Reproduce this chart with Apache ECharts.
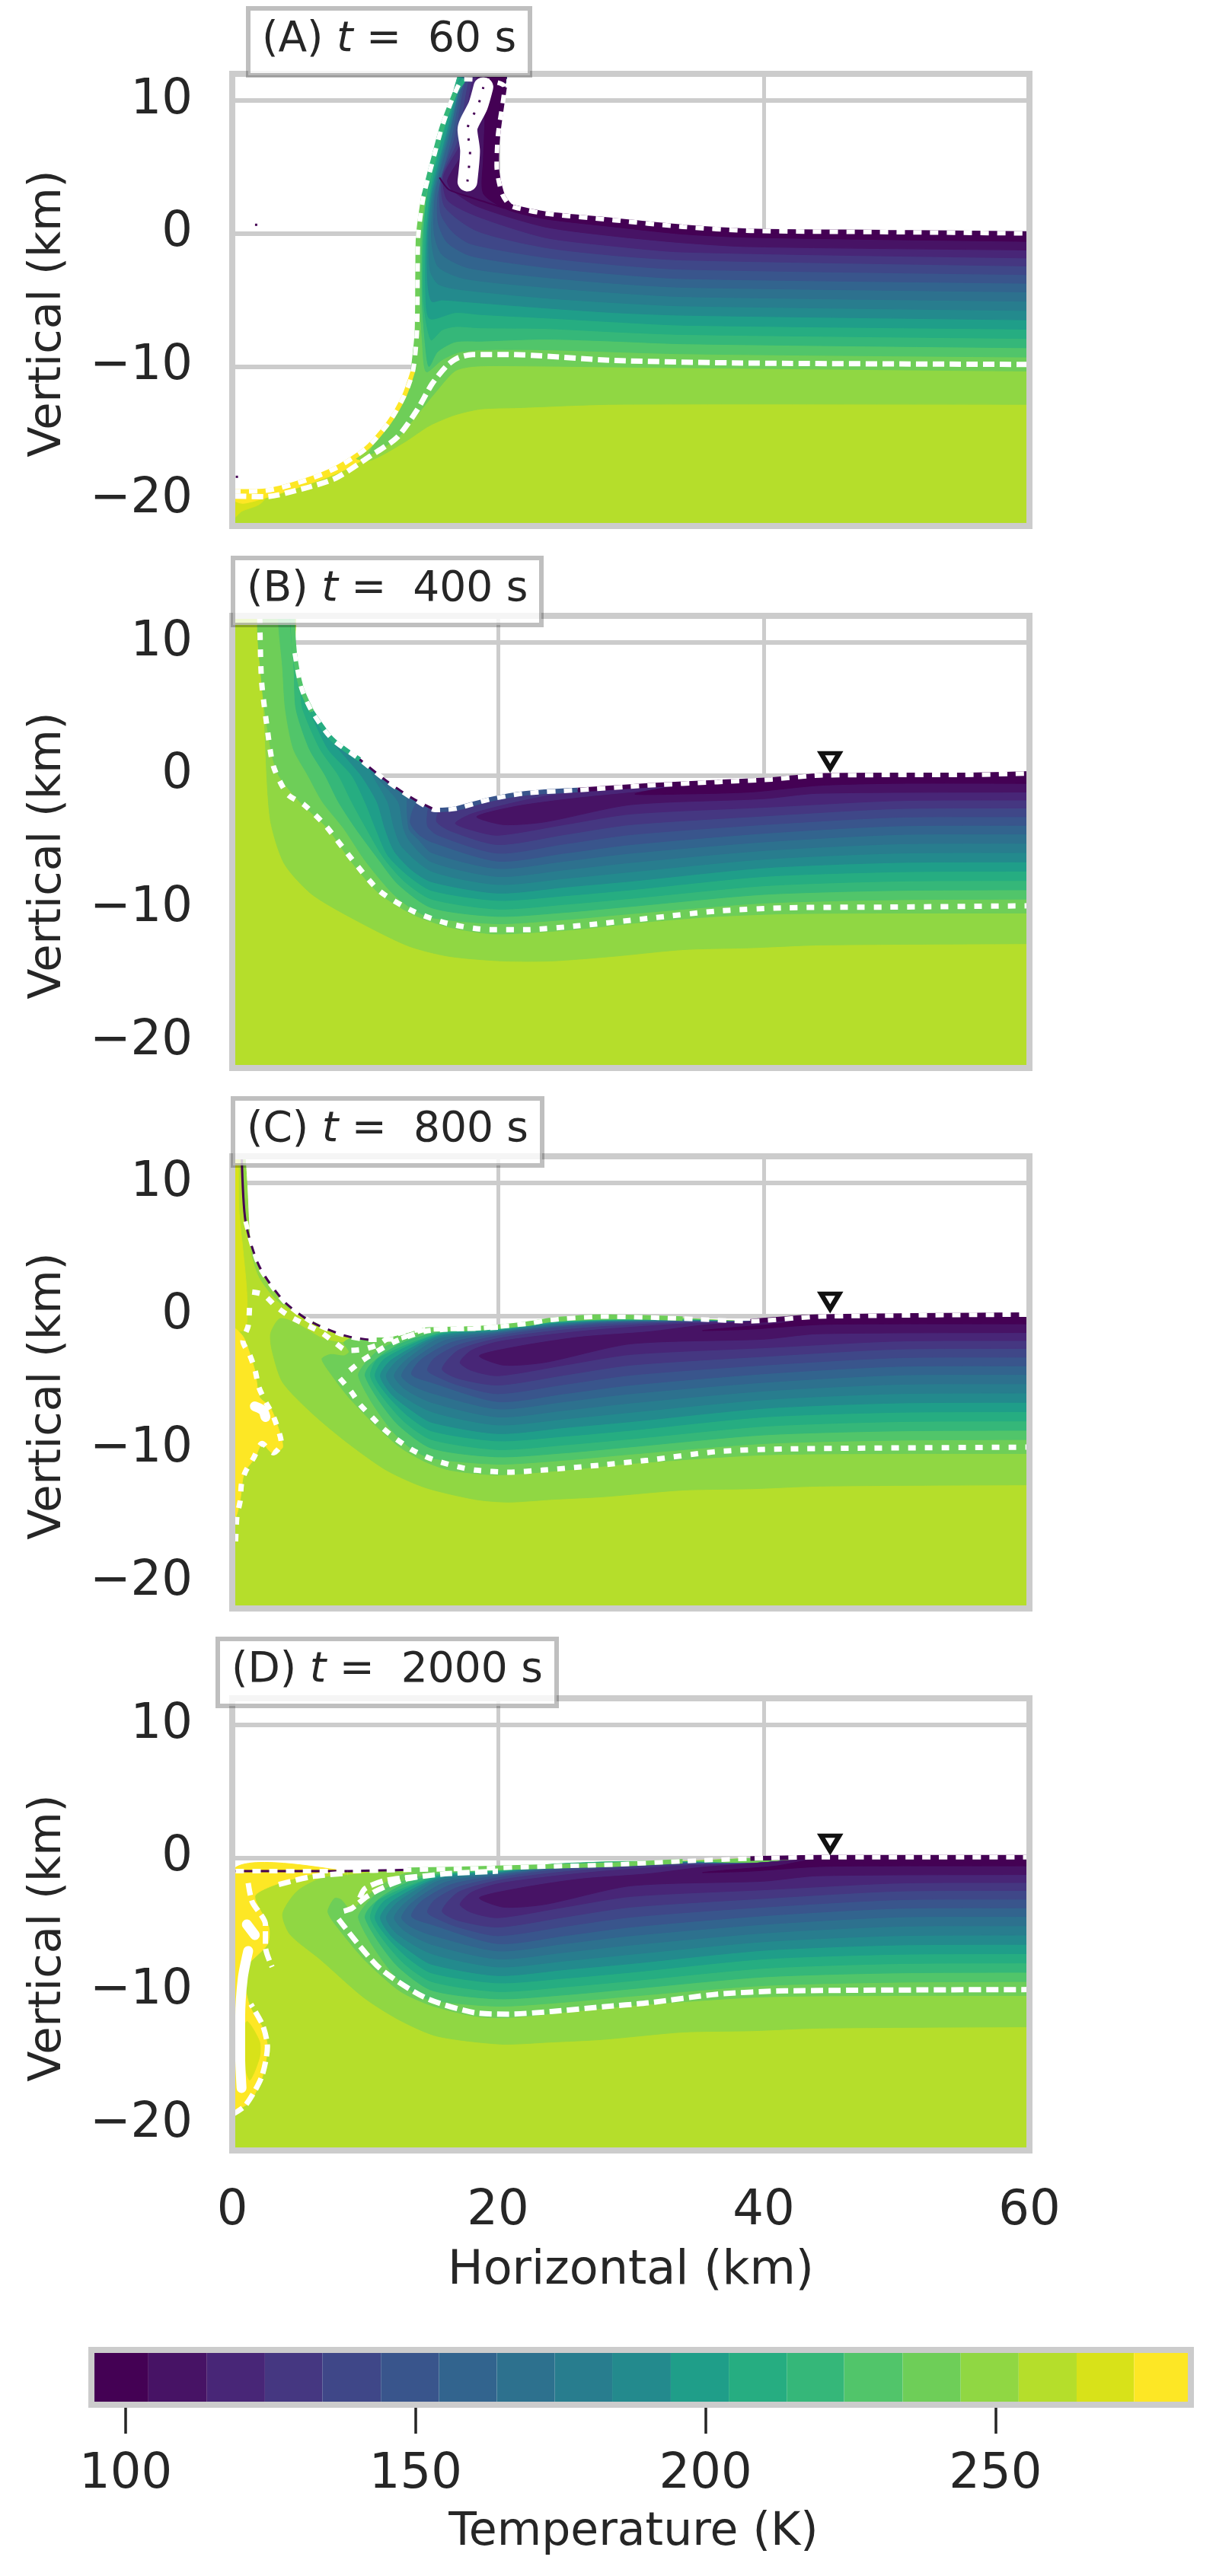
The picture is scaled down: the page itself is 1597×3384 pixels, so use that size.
<!DOCTYPE html>
<html>
<head>
<meta charset="utf-8">
<script src="https://cdn.jsdelivr.net/npm/echarts@6/dist/echarts.min.js"></script>
<style>html,body{margin:0;background:#fff}#chart{width:1597px;height:3384px}</style>
</head>
<body>
<div id="chart"></div>
<script>
// temperature bands of the colourbar (K)
const levelEdges = [94.6, 103.9, 114, 124, 133.9, 144, 154, 164, 174, 183.9, 194, 204, 214, 223.9, 234, 244, 254, 264, 273.9, 283.7];
const bandColors = ['#440154', '#471365', '#482677', '#453781', '#3f4788', '#39558c', '#32648e', '#2d718e', '#287d8e', '#238a8d', '#1f9e89', '#26ad81', '#35b779', '#51c56a', '#6ece58', '#90d743', '#b5de2b', '#d8e219', '#fde725'];
const barTicks = [100, 150, 200, 250];
const xTicks = [0, 20, 40, 60];
const yTicks = [-20, -10, 0, 10];
const panelTitles = ['(A)|60', '(B)|400', '(C)|800', '(D)|2000'];
const station = [[45, 1.1]];

// ground surface, km
const surfaceA = [[0, -19.4], [2.45, -19.35], [5.3, -18.65], [7.8, -17.65], [10.1, -16.15], [11.8, -14.2], [12.95, -12.2], [13.6, -10.35], [13.9, -7.4], [13.95, -2.85], [14, -0.15], [14.4, 2.8], [15.05, 5.3], [15.8, 8.05], [16.75, 10.55], [17.45, 11.6], [17.8, 12.6], [20.6, 12.6], [20.5, 11], [20, 7.4], [19.9, 5.1], [20.3, 3], [20.9, 2.1], [21.5, 1.9], [23.5, 1.5], [28.7, 1], [33.9, 0.5], [39, 0.2], [49.4, 0.1], [60, 0]];
const surfaceB = [[-1, 12.6], [4.5, 12.6], [4.7, 9.2], [5.2, 6.6], [6, 4.8], [7.5, 2.75], [9.6, 1.2], [11.6, -0.4], [13.7, -1.8], [15.3, -2.6], [16.8, -2.5], [19.4, -1.8], [22, -1.35], [26, -1.1], [31.3, -0.75], [36.5, -0.5], [40.6, -0.3], [44.2, 0], [49.4, 0.03], [54.6, 0.03], [60, 0.15]];
const surfaceC = [[-1, 12.6], [0.7, 12.6], [1, 7.1], [2.05, 3.7], [3.9, 1.1], [5.95, -0.45], [8.55, -1.5], [10.35, -1.8], [12.6, -1.7], [14.5, -1.05], [18.3, -0.95], [22.1, -0.6], [24, -0.3], [27.9, -0.05], [33.9, -0.2], [39, -0.4], [44.2, -0.05], [60, 0.1]];
const surfaceD = [[-1, -1], [8, -1], [13.2, -0.9], [18.4, -0.8], [23.5, -0.65], [28.7, -0.5], [33.9, -0.25], [39, -0.05], [44.2, 0.05], [49.4, 0.05], [60, 0.05]];

// lower edge of each cold band, index = band number
const lowA = [
  [[19.2, 12.5], [19, 8], [18.9, 5.5], [18.9, 3], [20.7, 1.8], [23.5, 1.1], [28.7, 0.5], [33.9, -0.05], [39, -0.3], [60, -0.6]],
  [[18.7, 12.5], [17.8, 8], [17.3, 6], [16.2, 4], [16.5, 3.3], [18.4, 2.05], [23.5, 0.5], [28.7, -0.2], [33.9, -0.7], [39, -1], [60, -1.25]],
  [[18.4, 12.5], [17.3, 7], [15.9, 4.3], [16.2, 2.5], [18.4, 1.3], [23.5, -0.3], [28.7, -0.95], [33.9, -1.4], [60, -1.85]],
  [[18.2, 12.5], [17, 7], [15.8, 4.2], [16, 2], [18.4, 0.2], [23.5, -1.05], [28.7, -1.65], [33.9, -2], [60, -2.45]],
  [[18, 12.5], [16.7, 7], [15.7, 4], [15.7, 1.5], [16.6, 0.1], [18, -0.8], [23.5, -1.8], [28.7, -2.35], [33.9, -2.7], [60, -3.1]],
  [[17.9, 12.5], [16.5, 7], [15.5, 3], [15.5, 0.8], [16.2, -0.7], [18, -1.7], [23.5, -2.55], [28.7, -3.05], [33.9, -3.4], [60, -3.75]],
  [[17.8, 12.5], [16.3, 7], [15.3, 3], [15.2, 0], [15.8, -1.6], [17.8, -2.6], [23.5, -3.3], [28.7, -3.75], [33.9, -4.05], [60, -4.4]],
  [[17.7, 12.5], [16.2, 7], [15.2, 3], [15, -0.5], [15.5, -2.5], [17.5, -3.4], [23.5, -4.05], [28.7, -4.45], [33.9, -4.75], [60, -5.1]],
  [[17.6, 12.5], [16.1, 7], [15.1, 3], [14.8, 0], [14.9, -2.8], [15.5, -3.8], [17, -4.2], [23.5, -4.85], [28.7, -5.2], [33.9, -5.45], [60, -5.8]],
  [[17.5, 12.5], [16, 7], [15, 3], [14.7, 0], [14.7, -3.5], [15, -5.1], [15.8, -5], [17.7, -5.15], [23.5, -5.6], [28.7, -5.95], [33.9, -6.15], [60, -6.5]],
  [[17.4, 12.5], [15.8, 7], [14.9, 3], [14.6, 0], [14.55, -4], [14.85, -6.4], [16.8, -5.95], [18.7, -6.1], [23.5, -6.35], [28.7, -6.65], [33.9, -6.9], [60, -7.2]],
  [[17.2, 12.5], [15.7, 7], [14.7, 3], [14.45, 0], [14.4, -5], [14.95, -8], [15.8, -7.25], [16.8, -7], [18.7, -7.1], [23.5, -7.15], [28.7, -7.4], [33.9, -7.6], [60, -7.9]],
  [[16, 8], [14.8, 3.5], [14.35, 0], [14.3, -5], [14.5, -8], [14.8, -10], [15.45, -8.9], [16.8, -8.15], [18.7, -8.1], [23.5, -7.95], [28.7, -8.1], [33.9, -8.3], [60, -8.6]],
  [[15, 5.3], [14.3, 2], [14.2, 0], [14.15, -5], [14.3, -8], [14.6, -10.4], [15.8, -9.5], [17, -8.95], [18.7, -8.75], [23.5, -8.75], [33.9, -9.05], [60, -9.3]],
  [[10.3, -16.6], [12.4, -15.4], [13.9, -13.65], [15.25, -12], [16.75, -10.35], [18.1, -10], [20.6, -9.95], [33.9, -10.1], [60, -10.35]],
  [[9.3, -16.9], [10.45, -17.05], [12.95, -15.7], [14.85, -14.45], [16.75, -13.65], [18.7, -13.2], [21.5, -13.1], [28.7, -12.85], [60, -12.85]]
];
const lowB = [
  [[30.3, -1.4], [33.9, -1.4], [39, -1.25], [44.2, -0.75], [50, -0.6], [60, -0.6]],
  [[18.4, -3.1], [20.4, -3.7], [23.5, -3.5], [30, -2.2], [40, -1.75], [44, -1.35], [60, -1.25]],
  [[16.8, -3.6], [18, -4.1], [20, -4.5], [25, -3.7], [30, -2.9], [40, -2.4], [50, -1.9], [60, -1.85]],
  [[15.6, -2.65], [15.4, -3.5], [16.5, -4.2], [20, -5.2], [25, -4.45], [30, -3.7], [40, -3.05], [50, -2.5], [60, -2.45]],
  [[14.8, -2.4], [14.7, -3.8], [15.5, -4.5], [20, -5.85], [25, -5.15], [30, -4.45], [40, -3.7], [50, -3.15], [60, -3.1]],
  [[13.9, -2.1], [13.4, -3.5], [14, -4.4], [15, -5], [20, -6.45], [25, -5.85], [30, -5.2], [40, -4.35], [50, -3.8], [60, -3.75]],
  [[13.2, -1.6], [13.3, -4], [14, -4.8], [15, -5.8], [20, -7], [25, -6.45], [30, -5.85], [40, -5], [50, -4.45], [60, -4.4]],
  [[10.9, -0.1], [12.5, -2], [12.9, -4], [13.4, -5], [15, -6.5], [20, -7.6], [25, -7.1], [30, -6.55], [40, -5.65], [50, -5.15], [60, -5.1]],
  [[10.4, 0.4], [11.7, -2], [12.2, -4], [12.8, -5.4], [15, -7.2], [20, -8.2], [25, -7.75], [30, -7.25], [40, -6.3], [50, -5.85], [60, -5.8]],
  [[7.7, 2.4], [9.7, 0], [10.9, -2], [11.5, -4], [12.2, -5.7], [13.5, -7.1], [15, -8], [20, -8.85], [25, -8.4], [30, -7.95], [40, -6.95], [50, -6.55], [60, -6.5]],
  [[5.7, 5.2], [7.2, 2], [9, 0], [10, -2], [10.8, -4], [11.7, -6], [13.2, -7.5], [15, -8.65], [20, -9.4], [25, -9.05], [30, -8.6], [40, -7.6], [50, -7.25], [60, -7.2]],
  [[5.2, 6.3], [5.3, 5], [6.6, 2], [8, 0], [9, -2], [10.1, -4], [11.4, -6.2], [13, -8], [15, -9.3], [20, -10.05], [25, -9.7], [30, -9.25], [40, -8.3], [50, -7.95], [60, -7.9]],
  [[4.3, 12.6], [4.65, 8], [4.8, 5], [5.8, 2], [7, 0], [8, -2], [9.3, -4], [11, -6.3], [12.5, -8.2], [15, -9.95], [20, -10.6], [25, -10.3], [30, -9.85], [40, -8.95], [50, -8.65], [60, -8.6]],
  [[3.5, 12.6], [3.8, 8], [4, 5], [4.6, 2], [5.7, 0], [6.8, -2], [8.4, -4], [10, -6.4], [12, -8.8], [13.5, -10], [15, -10.7], [20, -11.15], [25, -10.85], [30, -10.4], [40, -9.6], [50, -9.35], [60, -9.3]],
  [[2.07, 12.6], [2.2, 7.2], [2.9, 2], [3.5, 0], [5.1, -2], [7.2, -4], [9.05, -6.6], [11.1, -8.9], [13.7, -10.5], [16.3, -11.4], [19.4, -11.9], [22, -11.85], [26.1, -11.55], [31.3, -11], [36.5, -10.6], [41.7, -10.4], [49.4, -10.35], [60, -10.35]],
  [[2.07, 12.6], [2.2, 8], [2.4, 4.6], [2.85, -3.2], [3.9, -6.6], [5.95, -8.9], [9.05, -10.75], [13.2, -12.8], [16.3, -13.6], [20.4, -13.95], [24, -13.95], [28.7, -13.6], [33.9, -13.1], [39, -12.96], [44.2, -12.75], [60, -12.65]]
];
const topB = [
  [[60, 0.15], [49.4, 0.03], [44.2, 0], [40.6, -0.3], [36.5, -0.5], [33.9, -0.7]],
  [[60, 0.15], [49.4, 0.03], [44.2, 0], [40.6, -0.3], [35, -0.65], [31, -1.2], [26, -1.7], [21.5, -2.3]],
  [[60, 0.15], [49.4, 0.03], [44.2, 0], [40.6, -0.3], [33, -0.75], [28, -1.15], [24, -1.5], [21, -2.1], [18, -2.9]]
];
// colder loops shared by the two late panels (C, D)
const coreLow = [
  [[35.4, -1.1], [39, -1], [44.2, -0.65], [50, -0.6], [60, -0.6]],
  [[18.6, -3], [20.4, -3.7], [23.5, -3.5], [30, -2.1], [40, -1.75], [44, -1.35], [60, -1.25]],
  [[17.15, -3.5], [18, -4.1], [20, -4.5], [25, -3.7], [30, -2.9], [40, -2.4], [50, -1.9], [60, -1.85]],
  [[15.8, -4], [17, -4.7], [20, -5.2], [25, -4.45], [30, -3.7], [40, -3.05], [50, -2.5], [60, -2.45]],
  [[14.7, -4.1], [15.5, -4.6], [17, -5.2], [20, -5.85], [25, -5.15], [30, -4.45], [40, -3.7], [50, -3.15], [60, -3.1]],
  [[13.5, -4.4], [15, -5], [20, -6.45], [25, -5.85], [30, -5.2], [40, -4.35], [50, -3.8], [60, -3.75]],
  [[12.75, -4.5], [13.5, -5.2], [15, -5.8], [20, -7], [25, -6.45], [30, -5.85], [40, -5], [50, -4.45], [60, -4.4]],
  [[12.2, -4.5], [13, -5.5], [15, -6.5], [20, -7.6], [25, -7.1], [30, -6.55], [40, -5.65], [50, -5.15], [60, -5.1]],
  [[11.6, -4.5], [12.4, -5.7], [15, -7.2], [20, -8.2], [25, -7.75], [30, -7.25], [40, -6.3], [50, -5.85], [60, -5.8]],
  [[11.15, -4.5], [12, -5.9], [13.5, -7.1], [15, -8], [20, -8.85], [25, -8.4], [30, -7.95], [40, -6.95], [50, -6.55], [60, -6.5]],
  [[10.75, -4.5], [11.7, -6], [13.2, -7.5], [15, -8.65], [20, -9.4], [25, -9.05], [30, -8.6], [40, -7.6], [50, -7.25], [60, -7.2]],
  [[10.4, -4.5], [11.4, -6.2], [13, -8], [15, -9.3], [20, -10.05], [25, -9.7], [30, -9.25], [40, -8.3], [50, -7.95], [60, -7.9]],
  [[10, -4.5], [11, -6.3], [12.5, -8.2], [15, -9.95], [20, -10.6], [25, -10.3], [30, -9.85], [40, -8.95], [50, -8.65], [60, -8.6]],
  [[9.5, -4.5], [10.5, -6.5], [12, -8.6], [13.5, -10], [15, -10.7], [20, -11.15], [25, -10.85], [30, -10.4], [40, -9.6], [50, -9.35], [60, -9.3]]
];
const coreRight = [[60, 0.1], [50, 0.05], [44.2, -0.05]];
const coreTop = [
  [...coreRight, [41, -0.6], [38, -0.85]],
  [...coreRight, [39, -0.45], [35.4, -0.7], [31.3, -1.2], [26.1, -1.6], [21.5, -2.3]],
  [...coreRight, [39, -0.42], [33.9, -0.6], [28, -1], [24, -1.4], [20, -1.95], [18, -2.6]],
  [...coreRight, [39, -0.42], [33.9, -0.5], [28, -0.8], [24, -1.15], [20, -1.7], [17, -2.6]],
  [...coreRight, [39, -0.42], [33.9, -0.45], [28, -0.65], [24, -0.95], [20, -1.5], [17, -2.2], [15.2, -3.2]],
  [...coreRight, [39, -0.42], [33.9, -0.42], [27.9, -0.55], [24, -0.85], [20, -1.35], [16.5, -2], [14.2, -3.3]],
  [...coreRight, [39, -0.42], [33.9, -0.4], [27.9, -0.5], [24, -0.8], [20, -1.25], [16, -1.85], [13.5, -3.4]],
  [...coreRight, [39, -0.42], [33.9, -0.38], [27.9, -0.45], [24, -0.7], [20, -1.2], [15.5, -1.75], [13, -3.4]],
  [...coreRight, [39, -0.42], [33.9, -0.36], [27.9, -0.42], [24, -0.65], [20, -1.15], [15.5, -1.6], [12.5, -3.3]],
  [...coreRight, [39, -0.42], [33.9, -0.34], [27.9, -0.4], [24, -0.6], [20, -1.1], [15.5, -1.5], [12, -3.3]],
  [...coreRight, [39, -0.42], [33.9, -0.32], [27.9, -0.37], [24, -0.55], [20, -1.05], [15.5, -1.4], [11.5, -3.2]],
  [...coreRight, [39, -0.42], [33.9, -0.3], [27.9, -0.34], [24, -0.5], [20, -1], [15.5, -1.35], [11, -3.2]],
  [...coreRight, [39, -0.42], [33.9, -0.28], [27.9, -0.32], [24, -0.48], [20, -0.95], [15.5, -1.25], [13, -1.95], [11.3, -2.9], [10.3, -3.8]],
  [...coreRight, [39, -0.42], [33.9, -0.27], [27.9, -0.3], [22.1, -0.7], [18.3, -1], [15.4, -1.15], [13, -1.7], [11, -2.6], [9.9, -3.7]]
];
const low14C = [[6.75, -3.25], [7.6, -4.6], [8.75, -6.1], [10.65, -8.1], [12.6, -9.85], [14.5, -10.95], [16.4, -11.6], [19.9, -11.95], [25, -11.6], [30, -11.1], [40, -10.45], [50, -10.35], [60, -10.35]];
const top14C = [[60, 0.1], [44.2, -0.05], [39, -0.4], [33.9, -0.2], [27.9, -0.05], [22.1, -0.6], [14.5, -1.05], [11.6, -1.7], [10.3, -1.85], [9.1, -1.65], [8.4, -2], [8.8, -2.7], [8.4, -3], [7.4, -2.9]];
const low15C = [[2.9, -1.3], [3, -2.6], [3.8, -5], [6.1, -7.4], [8.75, -9.6], [11.6, -11.6], [14.5, -12.9], [18.3, -13.8], [20.8, -14], [24, -13.8], [27.9, -13.6], [33.9, -13.1], [39, -13], [44.2, -12.8], [60, -12.7]];
const top15C = [[60, 0.1], [44.2, -0.05], [39, -0.4], [33.9, -0.2], [27.9, -0.05], [22.1, -0.6], [14.5, -1.05], [12.6, -1.7], [10.3, -1.9], [9.1, -1.65], [8.3, -2], [6.8, -1.7], [4.9, -0.6], [3.6, -0.2]];
const low14D = [[7.2, -4], [7.6, -4.8], [9.9, -7.6], [12.6, -10], [15, -11.1], [18.3, -11.9], [20.8, -12], [25, -11.6], [30, -11.1], [40, -10.45], [50, -10.35], [60, -10.35]];
const top14D = [[60, 0.05], [44.2, 0.05], [39, -0.05], [28.7, -0.55], [18.4, -0.9], [13, -1.2], [11, -2.2], [9.5, -3.5], [8.95, -4], [8.2, -3.15], [7.7, -3.05]];
const low15D = [[3.8, -4.2], [4.35, -5.75], [6.65, -7.65], [9.9, -10.5], [12.6, -12.2], [15.4, -13.4], [20.2, -14], [24, -13.85], [27.9, -13.65], [33.9, -13.1], [39, -13], [44.2, -12.8], [60, -12.7]];
const top15D = [[60, 0.05], [44.2, 0.05], [39, -0.05], [28.7, -0.5], [18.4, -0.8], [13.2, -0.9], [8.75, -1.3], [6.8, -1.5], [4.9, -2.5]];

// warm patches next to the axis: band number, outline
const patchesA = [
  [17, [[0, -19.8], [2.45, -19.9], [2, -20.4], [0.7, -20.9], [0, -21.5]]],
  [18, [[0, -19.4], [2.45, -19.35], [5.3, -18.65], [7.8, -17.65], [10.1, -16.15], [11.8, -14.2], [12.95, -12.2], [13.6, -10.35], [13.75, -11], [13.2, -13], [12, -15], [10.3, -16.7], [8, -18], [5.3, -19], [2.45, -19.9], [0.8, -20.3], [0, -20]]]
];
const patchesB = [];
const patchesC = [
  [15, [[0.9, 12.6], [1.1, 10], [1.4, 5], [2.05, 2.9], [3.4, 1.15], [5.3, 0], [7, -0.9], [8.3, -1.5], [5.95, -0.45], [3.9, 1.1], [2.05, 3.7], [1, 7.1], [0.7, 12.6]]],
  [17, [[0, 12.6], [0.4, 12.6], [0.5, 8], [0.8, 5], [1.1, 1.6], [1, -1], [0, -1]]],
  [18, [[0, -1], [0.3, -1], [0.9, -1.7], [1.7, -4.1], [2.05, -6.1], [2.8, -6.8], [3.2, -7.65], [3.8, -9.85], [3, -10.3], [2.25, -9.6], [1.7, -10.7], [0.9, -11.8], [0.6, -13.8], [0.35, -14.9], [0, -15.5]]]
];
const patchesD = [
  [18, [[0, -19.2], [0.2, -19], [1.3, -18.4], [2.25, -16.5], [2.65, -14.2], [2.25, -12.7], [1.3, -11.1], [0.9, -8.45], [2.65, -6.5], [2.75, -5.2], [1.7, -2.9], [3, -2.1], [5.9, -1.25], [8.75, -1], [0, -1]]],
  [17, [[1.1, -12.3], [2.05, -13.8], [2.05, -15], [1.3, -16.7], [0.7, -14.2]]]
];

// contour traces: the surface in its local colour, then the white dashed isotherms
const edgesA = [
  [18, surfaceA.slice(0, 8)], [14, surfaceA.slice(7, 12)], [12, surfaceA.slice(11, 15)], [11, surfaceA.slice(14, 16)],
  [0, surfaceA.slice(18)]
];
const edgesB = [
  [13, surfaceB.slice(1, 5)], [11, surfaceB.slice(4, 7)], [0, surfaceB.slice(6, 10)], [5, surfaceB.slice(9, 14)], [0, surfaceB.slice(13)]
];
const edgesC = [
  [0, surfaceC.slice(1, 8)], [14, surfaceC.slice(7, 15)], [0, surfaceC.slice(15)]
];
const edgesD = [
  [0, surfaceD.slice(0, 3)], [14, surfaceD.slice(2, 7)], [0, surfaceD.slice(7)]
];
const whiteA = [
  [[0.2, -19.75], [2.45, -19.8], [5.3, -19.2], [7.8, -18.4], [10.45, -16.7], [12.4, -15.35], [13.9, -13.3], [15.05, -11.3], [16.2, -9.9], [17, -9.35], [18.1, -9.1], [20.6, -9.1], [28.7, -9.55], [39, -9.75], [60, -9.85]]
];
const whiteB = [
  [[2.07, 12], [2.2, 7.2], [2.6, 3.8], [3.1, 0.7], [4.15, -1.4], [5.4, -2.2], [7, -3.75], [9.05, -6.35], [11.1, -8.7], [13.7, -10.25], [16.3, -11.15], [19.4, -11.6], [22, -11.6], [26.1, -11.3], [31.3, -10.75], [36.5, -10.2], [41.7, -9.95], [49.4, -9.9], [60, -9.8]]
];
const whiteC = [
  [[8.1, -4.7], [8.95, -5.7], [9.6, -6.65], [10.55, -7.65], [11.4, -8.5], [12.4, -9.3], [13.5, -10.05], [14.6, -10.6], [15.7, -11], [17, -11.35], [18.3, -11.6], [20.8, -11.75], [23.3, -11.6], [25.75, -11.4], [27.9, -11.2], [31.3, -10.85], [36.5, -10.2], [41.6, -10], [60, -9.87]],
  [[8.85, -4.1], [9.8, -3.35], [10.85, -2.7], [12.2, -1.95], [14.5, -1.15], [17.35, -0.95], [20.2, -0.85]],
  [[1.5, 1.8], [2.35, 1.6], [3.3, 0.7], [4.35, -0.05], [5.4, -0.6], [6.55, -1.15], [7.6, -1.9], [8.65, -2.6], [9.9, -2.5], [11, -2.15], [12.2, -1.4], [14.5, -0.95]],
  [[1.3, 0.6], [1.2, -0.75], [0.8, -1.9], [1.3, -2.9], [1.7, -4], [2, -5.35], [2.5, -6.45], [3.1, -7.55], [3.7, -9.6], [3.1, -10.3], [2.25, -9.6], [1.6, -10.7], [1, -11.7], [0.7, -12.6], [0.6, -13.9], [0.35, -15.1], [0.25, -17.1]]
];
const whiteD = [
  [[8, -4.6], [11, -8.2], [14.5, -10.5], [18.3, -11.65], [20.8, -11.75], [24, -11.55], [27.9, -11.2], [31.3, -10.9], [36.5, -10.25], [41.6, -10], [60, -9.9]],
  [[8.4, -4], [9, -3.8], [10, -3], [11, -2.4], [13, -1.6], [16, -1.2], [20, -1]],
  [[9.6, -3], [10, -2.3], [11.5, -1.7], [14, -1.4]],
  [[0, -19.3], [1, -18.6], [2.2, -16.5], [2.65, -14.2], [2.3, -12.6], [1.4, -11]],
  [[1.2, -1.9], [1.5, -3.3], [2.5, -5], [2.5, -6.7], [3, -8.2]],
  [[3.5, -2], [6, -1.4], [8.7, -1.15]]
];
// the broken-up white clusters where the contour tangles
const blobsA = [[[17.7, 3.9], [17.9, 6.2], [17.7, 7.8], [18.5, 9.6], [18.9, 11]]];
const blobsC = [[[1.7, -6.8], [2.3, -7.1], [2.5, -7.6]]];
const blobsD = [[[1.1, -5], [1.7, -5.8]], [[1.2, -7], [0.8, -9], [0.6, -12], [0.6, -15], [0.7, -17.3]]];
const seamA = [[15.6, 4.2], [16.3, 3.3], [18, 2.7], [20.5, 1.9]];
const specksA = [[1.8, 0.65], [0.35, -18.3]];

const panels = [
  { top: 97, surface: surfaceA, low: lowA, tops: [], patches: patchesA, edges: edgesA, white: whiteA, dash: [15, 7], blobs: blobsA, boxLeft: 326, boxTop: 8, station: false },
  { top: 809, surface: surfaceB, low: lowB, tops: topB, patches: patchesB, edges: edgesB, white: whiteB, dash: [10, 12], blobs: [], boxLeft: 306, boxTop: 730, station: true },
  { top: 1519, surface: surfaceC, low: [...coreLow, low14C, low15C], tops: [...coreTop, top14C, top15C], patches: patchesC, edges: edgesC, white: whiteC, dash: [10, 12], blobs: blobsC, boxLeft: 306, boxTop: 1440, station: true },
  { top: 2231, surface: surfaceD, low: [...coreLow, low14D, low15D], tops: [...coreTop, top14D, top15D], patches: patchesD, edges: edgesD, white: whiteD, dash: [16, 7], blobs: blobsD, boxLeft: 286, boxTop: 2150, station: true }
];

const ink = '#262626';
const frame = '#cccccc';
const font = '"DejaVu Sans"';
const grids = [], xAxes = [], yAxes = [], series = [], titles = [];

// closes a band: lower edge left to right, then back along its top
function bandShape(low, top, surface) {
  const up = top || surface.filter(p => p[0] > low[0][0]).reverse();
  return [...low, [63, low[low.length - 1][1]], [63, up[0][1]], ...up];
}

function fillSeries(i, shapes) {
  series.push({
    type: 'custom', xAxisIndex: i, yAxisIndex: i, clip: true, z: 2, silent: true,
    data: shapes.map((s, k) => [k]),
    renderItem: function (params, api) {
      const s = shapes[params.dataIndex];
      return {
        type: 'polygon',
        shape: { points: s.pts.map(p => api.coord(p)), smooth: 0.25 },
        style: { fill: bandColors[s.band], stroke: bandColors[s.band], lineWidth: 1 }
      };
    }
  });
}

function lineSeries(i, pts, style, z) {
  series.push({
    type: 'line', xAxisIndex: i, yAxisIndex: i, data: pts, showSymbol: false, smooth: 0.25, z: z, silent: true,
    clip: true, lineStyle: style
  });
}

panels.forEach(function (p, i) {
  grids.push({ left: 305, width: 1047, top: p.top, height: 594, show: true, borderColor: frame, borderWidth: 8, z: 5, backgroundColor: 'transparent' });
  xAxes.push({
    gridIndex: i, type: 'value', min: 0, max: 60, axisLine: { show: false },
    axisTick: { show: false, customValues: xTicks },
    splitLine: { show: true, lineStyle: { color: frame, width: 5 } },
    axisLabel: i === 3
      ? { show: true, customValues: xTicks, color: ink, fontFamily: font, fontSize: 64, margin: 48, alignMinLabel: 'center', alignMaxLabel: 'center' }
      : { show: false, customValues: xTicks },
    name: i === 3 ? 'Horizontal (km)' : '', nameLocation: 'middle', nameGap: 128,
    nameTextStyle: { color: ink, fontFamily: font, fontSize: 62 }
  });
  yAxes.push({
    gridIndex: i, type: 'value', min: -22, max: 12, axisLine: { show: false },
    axisTick: { show: false, customValues: yTicks },
    splitLine: { show: true, lineStyle: { color: frame, width: 6 } },
    axisLabel: { customValues: yTicks, color: ink, fontFamily: font, fontSize: 64, margin: 52, padding: [12, 0, 0, 0], formatter: v => String(v).replace('-', '\u2212') },
    name: 'Vertical (km)', nameLocation: 'middle', nameGap: 212, nameRotate: 90,
    nameTextStyle: { color: ink, fontFamily: font, fontSize: 59, padding: [0, 36, 0, 0] }
  });

  const s = p.surface;
  const base = [...s, [63, s[s.length - 1][1]], [63, -23], [-2, -23], [-2, s[0][1]]];
  const shapes = [{ band: 16, pts: base }];
  p.patches.forEach(q => shapes.push({ band: q[0], pts: q[1] }));
  for (let k = p.low.length - 1; k >= 0; k--) {
    shapes.push({ band: k, pts: bandShape(p.low[k], p.tops[k], s) });
  }
  fillSeries(i, shapes);

  if (i === 0) {
    lineSeries(i, seamA, { color: bandColors[0], width: 2 }, 3);
    series.push({ type: 'scatter', xAxisIndex: 0, yAxisIndex: 0, data: specksA, symbol: 'rect', symbolSize: 3, itemStyle: { color: bandColors[0], opacity: 1 }, z: 3, silent: true });
  }
  p.edges.forEach(e => lineSeries(i, e[1], { color: bandColors[e[0]], width: e[0] === 0 && i > 0 && e[1][0][0] < 20 ? 3 : 6, cap: 'butt' }, 3));
  lineSeries(i, s.filter(q => q[1] < 12.5), { color: '#fff', width: 6, type: [11, 11], cap: 'butt' }, 4);
  p.white.forEach(w => lineSeries(i, w, { color: '#fff', width: 7, type: p.dash, cap: 'butt' }, 4));
  p.blobs.forEach(b => {
    lineSeries(i, b, { color: '#fff', width: i === 0 ? 26 : 13, cap: 'round', join: 'round' }, 4);
    if (i === 0) lineSeries(i, b, { color: bandColors[0], width: 3, type: [3, 15], cap: 'butt' }, 5);
  });

  if (p.station) {
    series.push({
      type: 'scatter', xAxisIndex: i, yAxisIndex: i, data: station, symbol: 'triangle', symbolRotate: 180,
      symbolSize: [24, 20], itemStyle: { color: '#fff', borderColor: '#111', borderWidth: 6, opacity: 1 }, z: 6, silent: true
    });
  }

  const parts = panelTitles[i].split('|');
  titles.push({
    left: p.boxLeft, top: p.boxTop, padding: [15, 18, 19, 18], z: 8,
    backgroundColor: 'rgba(255,255,255,0.8)', borderColor: 'rgba(0,0,0,0.25)', borderWidth: 6,
    text: '{a|' + parts[0] + ' }{i|t}{a| =  ' + parts[1] + ' s}',
    textStyle: {
      rich: {
        a: { fontFamily: font, fontSize: 55, color: ink, fontWeight: 'normal', lineHeight: 60 },
        i: { fontFamily: font, fontSize: 55, color: ink, fontStyle: 'italic', fontWeight: 'normal', lineHeight: 60 }
      }
    }
  });
});

// colourbar
const barIndex = panels.length;
grids.push({ left: 120, width: 1444, top: 3087, height: 72, show: true, borderColor: frame, borderWidth: 8, z: 5, backgroundColor: 'transparent' });
xAxes.push({
  gridIndex: barIndex, type: 'value', min: 94.07, max: 283.7, axisLine: { show: false },
  axisTick: { show: true, customValues: barTicks, length: 38, lineStyle: { color: ink, width: 3.5 } },
  splitLine: { show: false },
  axisLabel: { customValues: barTicks, color: ink, fontFamily: font, fontSize: 64, margin: 60 },
  name: 'Temperature (K)', nameLocation: 'middle', nameGap: 138,
  nameTextStyle: { color: ink, fontFamily: font, fontSize: 60, padding: [0, 20, 0, 0] }
});
yAxes.push({ gridIndex: barIndex, type: 'value', min: 0, max: 1, show: false });
series.push({
  type: 'custom', xAxisIndex: barIndex, yAxisIndex: barIndex, clip: true, z: 2, silent: true,
  data: bandColors.map((c, k) => [levelEdges[k], levelEdges[k + 1]]),
  renderItem: function (params, api) {
    const a = api.coord([api.value(0), 1]);
    const b = api.coord([api.value(1), 0]);
    return { type: 'rect', shape: { x: a[0], y: a[1], width: b[0] - a[0], height: b[1] - a[1] }, style: { fill: bandColors[params.dataIndex] } };
  }
});

const chart = echarts.init(document.getElementById('chart'), null, { renderer: 'canvas' });
chart.setOption({
  animation: false, backgroundColor: '#fff', textStyle: { fontFamily: font },
  title: titles, grid: grids, xAxis: xAxes, yAxis: yAxes, series: series
});
</script>
</body>
</html>
